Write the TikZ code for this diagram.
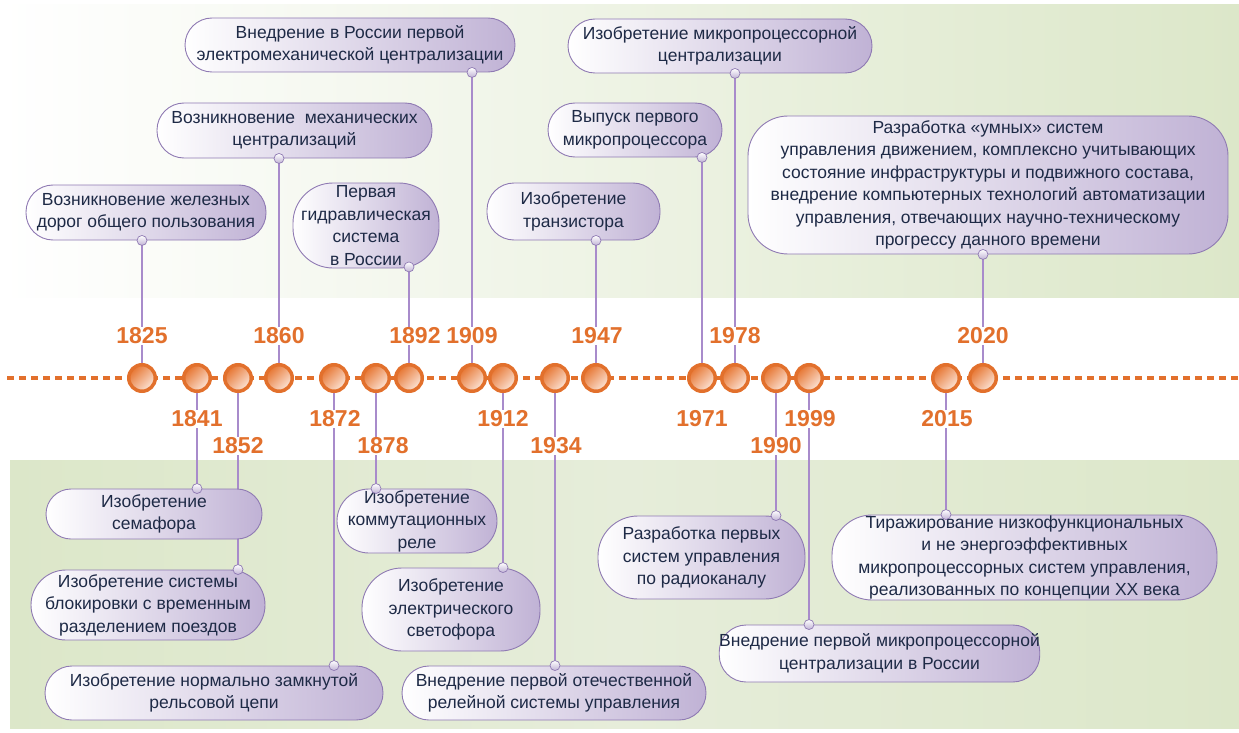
\documentclass[tikz,border=0pt]{standalone}
\usepackage{fontspec}
\setmainfont{Liberation Sans}
\definecolor{orng}{HTML}{E2702C}
\definecolor{evA}{HTML}{E6742F}
\definecolor{evB}{HTML}{FCE6DA}
\definecolor{lnp}{HTML}{A88BCB}
\definecolor{bxd}{HTML}{8F7AB3}
\definecolor{bxr}{HTML}{C0B2D5}
\definecolor{txt}{HTML}{1E2A46}
\definecolor{bgg}{HTML}{DCE7C9}
\definecolor{bgl}{HTML}{E6EDDA}
\pgfdeclarelayer{bgzero}
\pgfdeclarelayer{bgone}
\pgfsetlayers{bgzero,bgone,main}
\tikzset{
  bx/.style={draw=bxd, line width=0.9pt, left color=white, right color=bxr, align=center, text=txt,
    font=\fontsize{17.5}{22.5}\selectfont, inner sep=0pt, rounded corners=27pt},
  yr/.style={text=orng, font=\bfseries\fontsize{23}{23}\selectfont, fill=white, inner sep=1pt},
  dot/.style={circle, draw=bxd, line width=0.7pt, top color=white, bottom color=bxr, minimum size=10pt, inner sep=0pt},
  ev/.style={circle, draw=orng, line width=3.5pt, top color=evA, bottom color=evB, shading angle=45, minimum size=26.5pt, inner sep=0pt},
  cn/.style={draw=lnp, line width=1.3pt},
  tl/.style={draw=orng, line width=3.5pt, dash pattern=on 7pt off 5pt}
}
\begin{document}
\begin{tikzpicture}[x=1pt,y=-1pt]
\useasboundingbox (0,0) rectangle (1239,733);
% event circles
\foreach \n/\x in {1825/142,1841/197,1852/238,1860/279,1872/334,1878/376,1892/409,1909/472,1912/503,1934/555,1947/596,1971/702,1978/735,1990/776,1999/809,2015/946,2020/983}{
  \node[ev] (c\n) at (\x,378) {};
}
% year labels
\node[yr] (y1825) at (142,336) {1825};
\node[yr] (y1860) at (279,336) {1860};
\node[yr] (y1892) at (415,336) {1892};
\node[yr] (y1909) at (472,336) {1909};
\node[yr] (y1947) at (597,336) {1947};
\node[yr] (y1978) at (735,336) {1978};
\node[yr] (y2020) at (983,336) {2020};
\node[yr] (y1841) at (197,419) {1841};
\node[yr] (y1872) at (335,419) {1872};
\node[yr] (y1912) at (503,419) {1912};
\node[yr] (y1971) at (702,419) {1971};
\node[yr] (y1999) at (810,419) {1999};
\node[yr] (y2015) at (947,419) {2015};
\node[yr] (y1852) at (238,446) {1852};
\node[yr] (y1878) at (383,446) {1878};
\node[yr] (y1934) at (556,446) {1934};
\node[yr] (y1990) at (776,446) {1990};
% boxes top
\node[bx, minimum width=330pt, minimum height=54pt] (b1) at (350,45) {Внедрение в России первой\\электромеханической централизации};
\node[bx, minimum width=304pt, minimum height=54pt] (b2) at (720,46) {Изобретение микропроцессорной\\централизации};
\node[bx, minimum width=275pt, minimum height=55pt] (b3) at (294.5,130.5) {Возникновение \ механических\\централизаций};
\node[bx, minimum width=174pt, minimum height=54pt] (b4) at (635,130) {Выпуск первого\\микропроцессора};
\node[bx, minimum width=480pt, minimum height=138pt, rounded corners=40pt] (b5) at (988,185) {Разработка «умных» систем\\управления движением, комплексно учитывающих\\состояние инфраструктуры и подвижного состава,\\внедрение компьютерных технологий автоматизации\\управления, отвечающих научно-техническому\\прогрессу данного времени};
\node[bx, minimum width=240pt, minimum height=55pt] (b6) at (146,212.5) {Возникновение железных\\дорог общего пользования};
\node[bx, minimum width=146pt, minimum height=85pt, rounded corners=40pt] (b7) at (366,225.5) {Первая\\гидравлическая\\система\\в России};
\node[bx, minimum width=173pt, minimum height=57pt] (b8) at (573.5,211.5) {Изобретение\\транзистора};
% boxes bottom
\node[bx, minimum width=216pt, minimum height=50pt, rounded corners=25pt] (b9) at (154,514) {Изобретение\\семафора};
\node[bx, minimum width=234pt, minimum height=70pt, rounded corners=35pt] (b10) at (148,605) {Изобретение системы\\блокировки с временным\\разделением поездов};
\node[bx, minimum width=338pt, minimum height=54pt] (b11) at (214,693) {Изобретение нормально замкнутой\\рельсовой цепи};
\node[bx, minimum width=160pt, minimum height=64pt, rounded corners=32pt] (b12) at (417,521) {Изобретение\\коммутационных\\реле};
\node[bx, minimum width=178pt, minimum height=83pt, rounded corners=40pt] (b13) at (451,609.5) {Изобретение\\электрического\\светофора};
\node[bx, minimum width=304pt, minimum height=54pt] (b14) at (554,693) {Внедрение первой отечественной\\релейной системы управления};
\node[bx, minimum width=207pt, minimum height=83pt, rounded corners=40pt] (b15) at (701.5,557.5) {Разработка первых\\систем управления\\по радиоканалу};
\node[bx, minimum width=315pt, minimum height=57pt] (b16) at (879.5,653.5) {Внедрение первой микропроцессорной\\централизации в России};
\node[bx, minimum width=385pt, minimum height=85pt, rounded corners=40pt] (b17) at (1024.5,557.5) {Тиражирование низкофункциональных\\и не энергоэффективных\\микропроцессорных систем управления,\\реализованных по концепции XX века};
% connection dots
\foreach \c/\b/\a in {1909/b1/south,1978/b2/south,1860/b3/south,1971/b4/south,2020/b5/south,1825/b6/south,1947/b8/south,1841/b9/north,1852/b10/north,1872/b11/north,1878/b12/north,1912/b13/north,1934/b14/north,1990/b15/north,1999/b16/north,2015/b17/north}{
  \node[dot] (d\c) at (c\c |- \b.\a) {};
}
\node[dot] (d1892) at ([yshift=1.5pt]c1892 |- b7.south) {};
\begin{pgfonlayer}{bgone}
\draw[tl] (7,378) -- (1239,378);
\foreach \c in {1825,1841,1852,1860,1872,1878,1892,1909,1912,1934,1947,1971,1978,1990,1999,2015,2020}{
  \draw[cn] (c\c.center) -- (d\c.center);
}
\end{pgfonlayer}
\begin{pgfonlayer}{bgzero}
\shade[left color=white, right color=bgg] (0,5) rectangle (1239,297);
\shade[left color=bgg, right color=bgg, middle color=bgl] (10,460) rectangle (1239,728);
\end{pgfonlayer}
\end{tikzpicture}
\end{document}
